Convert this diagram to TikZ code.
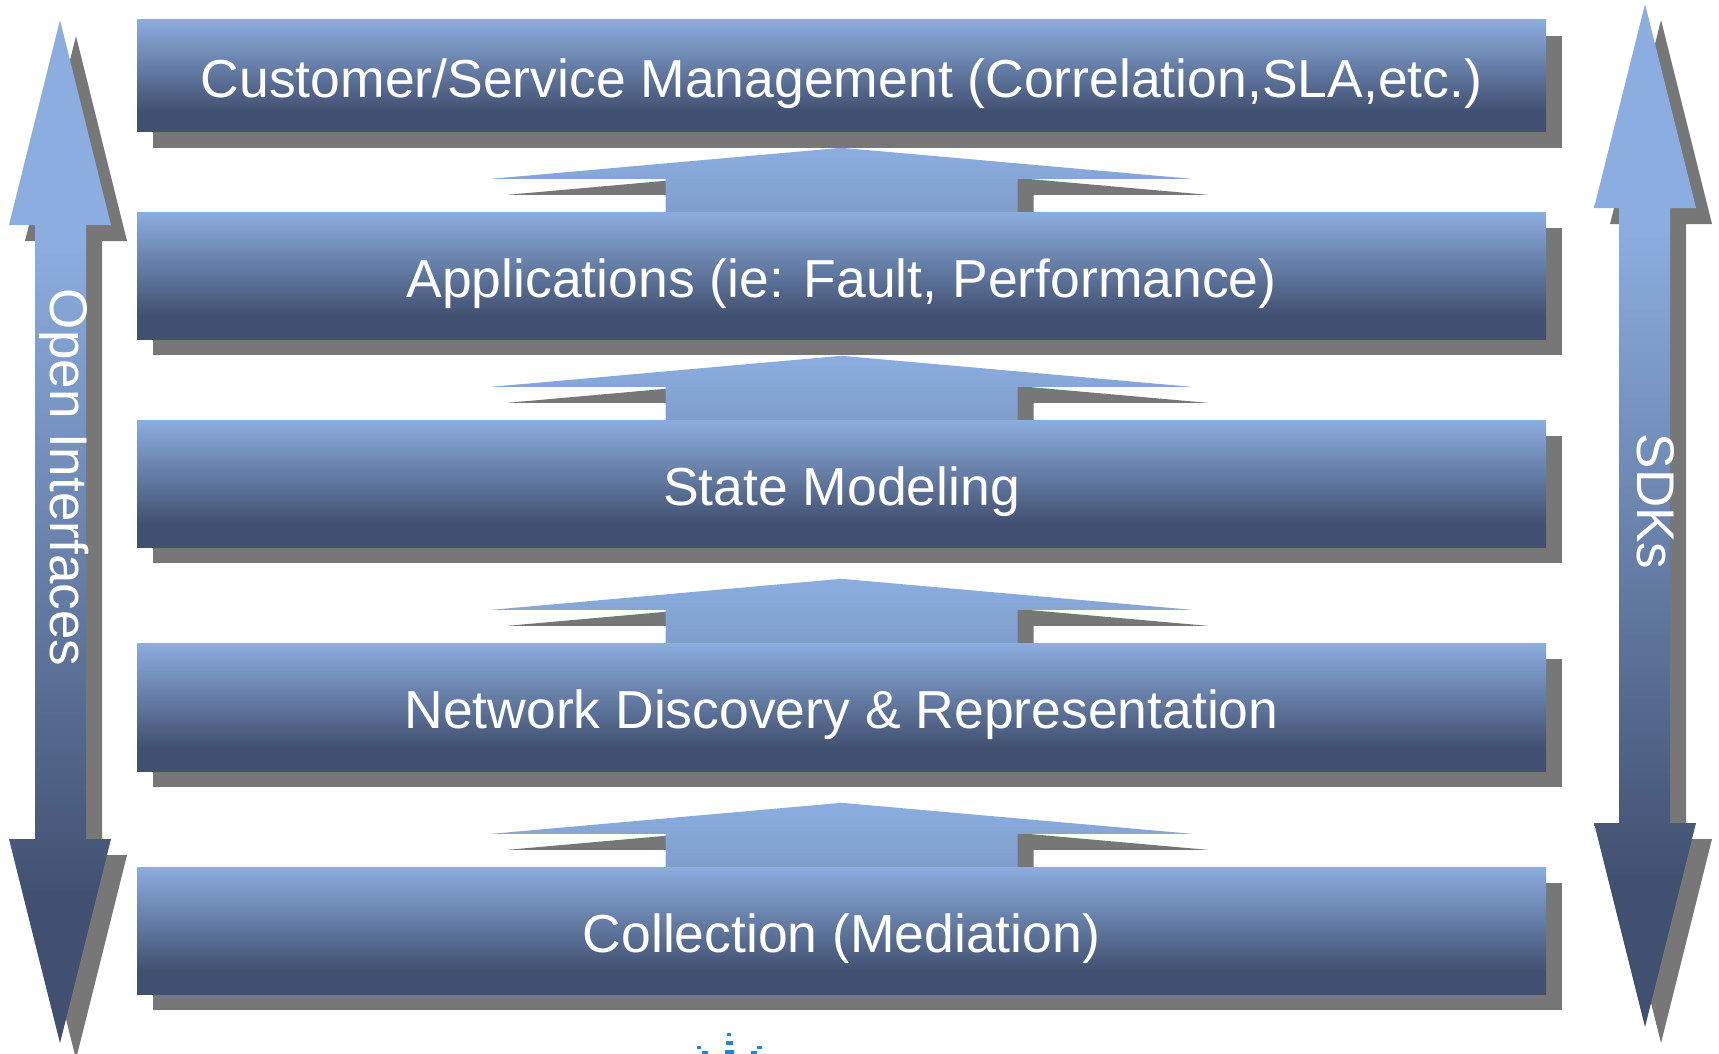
\documentclass[tikz,border=0pt]{standalone}
\usepackage{fontspec}
\setmainfont{Liberation Sans}
\usetikzlibrary{positioning,shadows,backgrounds}
\definecolor{layerlight}{HTML}{8BADDF}
\definecolor{layerdark}{HTML}{415070}
\definecolor{flowlight}{HTML}{8BAEE0}
\definecolor{flowdark}{HTML}{7F9ECA}
\definecolor{shadowgray}{HTML}{777777}
\definecolor{logoblue}{HTML}{1E88D0}
\pgfdeclareverticalshading{layershade}{100bp}{color(0bp)=(layerdark); color(25bp)=(layerdark); color(34bp)=(layerdark); color(75bp)=(layerlight); color(100bp)=(layerlight)}
\pgfdeclareverticalshading{sideshade}{100bp}{color(0bp)=(layerdark); color(32bp)=(layerdark); color(64bp)=(layerlight); color(100bp)=(layerlight)}
\tikzset{
	offshadow/.style={drop shadow={shadow xshift=16pt,shadow yshift=-16pt,fill=shadowgray,opacity=1}},
	layer/.style={rectangle,minimum width=1409,minimum height=127,inner sep=0pt,text height=43pt,text depth=0pt,shading=layershade,offshadow,text=white,font=\fontsize{53.5}{60}\selectfont},
	flow/.style={top color=flowlight,middle color=flowlight,bottom color=flowdark,offshadow},
	side/.style={shading=sideshade,offshadow},
	sidelabel/.style={text=white,anchor=base,rotate=-90,inner sep=0pt}
}

\begin{document}
\begin{tikzpicture}[x=1pt,y=-1pt]
	\useasboundingbox (0,0) rectangle (1719,1054);
	
	\node[layer,minimum height=112] (l1) at (841.5,76) {Customer/Service Management (Correlation,SLA,etc.)};
	\node[layer] (l2) at (841.5,275.5) {Applications (ie: Fault, Performance)};
	\node[layer] (l3) at (841.5,483.5) {State Modeling};
	\node[layer,minimum height=128] (l4) at (841.5,707) {Network Discovery \& Representation};
	\node[layer] (l5) at (841.5,930.5) {Collection (Mediation)};
	
	\begin{scope}[on background layer]
		\foreach \lo in {l2,l3,l4,l5}
			\path[flow] ([shift={(-176,0)}]\lo.north) -- ++(0,-33) -- ++(-174,0) -- ++(350,-31) -- ++(350,31) -- ++(-174,0) -- ++(0,33) -- cycle;
	\end{scope}
	
	% side arrows
	\path[side] (60,20) -- (111,225) -- (86,225) -- (86,839) -- (111,839) -- (60,1043) -- (9,839) -- (35,839) -- (35,225) -- (9,225) -- cycle;
	\path[side] (1645,4) -- (1696,208) -- (1670,208) -- (1670,823) -- (1696,823) -- (1645,1027) -- (1594,823) -- (1619,823) -- (1619,208) -- (1594,208) -- cycle;
	\node[sidelabel,font=\fontsize{53}{60}\selectfont] (open) at (50,477.5) {Open Interfaces};
	\node[sidelabel,font=\fontsize{53}{60}\selectfont] (sdk) at (1637,501.5) {SDKs};
	
	% cut-off logo
	\fill[logoblue] (727,1033) rectangle (731,1036) (726,1041) rectangle (733,1045) (725,1050) rectangle (734,1054)
		(697,1046) rectangle (701,1049) (702,1051) rectangle (708,1054) (757,1046) rectangle (762,1049) (751,1051) rectangle (757,1054);
\end{tikzpicture}
\end{document}
